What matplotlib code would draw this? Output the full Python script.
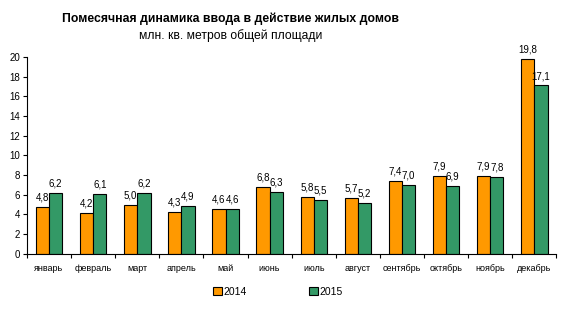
import matplotlib.pyplot as plt
import numpy as np

plt.rcParams['font.family'] = ['Liberation Sans', 'DejaVu Sans']

months = ['январь', 'февраль', 'март', 'апрель', 'май', 'июнь',
          'июль', 'август', 'сентябрь', 'октябрь', 'ноябрь', 'декабрь']
vals_2014 = [4.8, 4.2, 5.0, 4.3, 4.6, 6.8, 5.8, 5.7, 7.4, 7.9, 7.9, 19.8]
vals_2015 = [6.2, 6.1, 6.2, 4.9, 4.6, 6.3, 5.5, 5.2, 7.0, 6.9, 7.8, 17.1]
series_names = ['2014', '2015']

fig = plt.figure(figsize=(5.62, 3.31), dpi=100)
ax = fig.add_axes([0.048, 0.233, 0.942, 0.595])

x = np.arange(len(months))
w = 0.3
b1 = ax.bar(x - w / 2, vals_2014, w, color='#FF9900', edgecolor='black', linewidth=0.8, label=series_names[0])
b2 = ax.bar(x + w / 2, vals_2015, w, color='#339966', edgecolor='black', linewidth=0.8, label=series_names[1])

for bars in (b1, b2):
    ax.bar_label(bars, labels=[f'{v:.1f}'.replace('.', ',') for v in bars.datavalues],
                 padding=3, fontsize=7)

ax.set_xlim(-0.5, len(months) - 0.5)
ax.set_ylim(0, 20)
ax.set_yticks(range(0, 21, 2))
ax.tick_params(axis='y', labelsize=7, length=3, width=0.8, pad=2)
ax.set_xticks(x)
ax.set_xticklabels(months, fontsize=6.5)
ax.tick_params(axis='x', length=0, pad=7)
ax.set_xticks(np.arange(-0.5, len(months)), minor=True)
ax.tick_params(axis='x', which='minor', length=3, width=0.8)
for s in ('top', 'right'):
    ax.spines[s].set_visible(False)
ax.spines['left'].set_linewidth(0.8)
ax.spines['bottom'].set_linewidth(0.8)

fig.text(0.41, 0.935, 'Помесячная динамика ввода в действие жилых домов',
         ha='center', fontsize=8.8, fontweight='bold')
fig.text(0.41, 0.882, 'млн. кв. метров общей площади', ha='center', fontsize=8.7)

fig.legend(handles=[b1, b2], loc='center', bbox_to_anchor=(0.495, 0.118), ncol=2,
           frameon=False, fontsize=7.5, handlelength=0.8, handleheight=0.8,
           handletextpad=0.2, columnspacing=6)

fig.savefig('out.png', dpi=100)
